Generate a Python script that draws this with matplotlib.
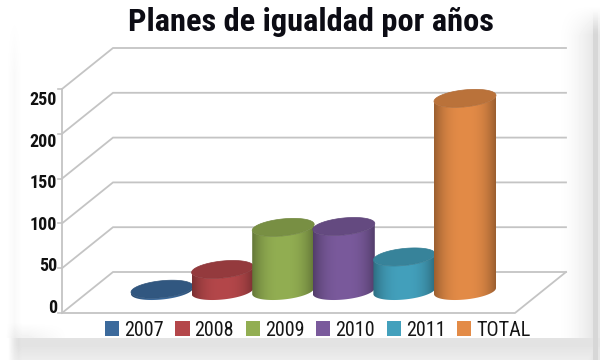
import numpy as np
import matplotlib
matplotlib.use("Agg")
import matplotlib.pyplot as plt
from matplotlib.patches import Polygon, Patch
from matplotlib.colors import to_rgb
from matplotlib import font_manager as fm

# ---- data ----
categories = ["2007", "2008", "2009", "2010", "2011", "TOTAL"]
values = [2, 24, 71, 72, 38, 215]
colors = ["#3c6a9c", "#b4474a", "#92ae52", "#7a5a9c", "#43a0bc", "#e38b47"]
y_ticks = [0, 50, 100, 150, 200, 250]
grid_levels = [0, 50, 100, 150, 200, 250]
title = "Planes de igualdad por años"

narrow = "Liberation Sans"
for cand in ["Roboto Condensed", "Archivo Narrow", "IBM Plex Sans Condensed", "Fira Sans Condensed", "Barlow Condensed"]:
    if any(f.name == cand and int(f.weight) >= 600 if str(f.weight).isdigit() else f.name == cand and f.weight == "bold"
           for f in fm.fontManager.ttflist):
        narrow = cand
        break

W, H = 600, 360
fig = plt.figure(figsize=(W / 100, H / 100), dpi=100, facecolor="white")

# soft frame shadow behind the panel
bg = fig.add_axes([0, 0, 1, 1], zorder=0)
bg.axis("off")
yy, xx = np.mgrid[0:H, 0:W].astype(float)
right = np.clip((xx - 552) / 41, 0, 1) ** 2 * 0.10 * np.clip((yy - 5) / 30, 0, 1)
stripe = ((xx >= 593) & (xx < 598)) * 0.06 * np.clip((yy - 10) / 20, 0, 1)
bottom = np.where(yy >= 338, 0.11 - np.clip((yy - 345) / 15, 0, 1) * 0.04, 0) * np.clip((xx - 8) / 10, 0, 1)
band = np.clip((yy - 322) / 18, 0, 1) * np.clip((68 - xx) / 40, 0, 1) * 0.06 * (yy < 338) * np.clip((xx - 5) / 10, 0, 1)
left = np.clip((8 - np.abs(xx - 14)) / 8, 0, 1) * 0.025 * np.clip((yy - 15) / 60, 0, 1)
shade = 1 - np.maximum(right + stripe, bottom) - band - left
bg.imshow(shade, cmap="gray", vmin=0, vmax=1, extent=(0, W, H, 0), aspect="auto", interpolation="bilinear")

# main axes: x in category index, y in chart value on the plane of the bars
PXU = 60.6          # px per category
PYU = 0.896         # px per value unit
X0, Y0 = 162.0, 291.0
ax = fig.add_axes([0, 0, 1, 1], zorder=1)
ax.patch.set_alpha(0)
ax.axis("off")

# walls & grid
grid_c = "#c4c4c4"
back_dy, front_dy = 19 / PYU, -22 / PYU
bl, br = (113 - X0) / PXU, (566 - X0) / PXU
fl, fr = (62 - X0) / PXU, (515 - X0) / PXU
tick_x = (58 - X0) / PXU
for lv in grid_levels:
    ax.plot([fl, bl, br], [lv + front_dy, lv + back_dy, lv + back_dy], color=grid_c, lw=1.3, zorder=1,
            solid_joinstyle="miter")
    ax.plot([tick_x, fl], [lv + front_dy] * 2, color=grid_c, lw=1.2, zorder=1)
ax.plot([fl, fl], [front_dy, grid_levels[-1] + front_dy], color=grid_c, lw=1.3, zorder=1)
ax.plot([fl, fr, br], [front_dy, front_dy, back_dy], color=grid_c, lw=1.3, zorder=1)

# cylinders
A = 31 / PXU
B = 8.5 / PYU
SH = 3 / PYU
t = np.linspace(0, 2 * np.pi, 200)


def arc(cx, base, tt):
    return np.c_[cx + A * np.cos(tt), base + B * np.sin(tt) + SH * np.cos(tt)]


for i, (v, c) in enumerate(zip(values, colors)):
    rgb = np.array(to_rgb(c))
    z = 3 + i
    low = np.linspace(np.pi, 2 * np.pi, 80)
    body = np.vstack([arc(i, 0, low), arc(i, v, low[::-1])])
    u = np.linspace(-1, 1, 120)
    edge = 0.68 + 0.32 * (1 - np.abs(u) ** 2.6)
    grad = np.clip(rgb[None, None, :] * edge[None, :, None], 0, 1)
    ymin, ymax = -B - SH, v + B + SH
    im = ax.imshow(grad, extent=(i - A, i + A, ymin, ymax), aspect="auto", zorder=z, interpolation="bilinear")
    poly = Polygon(body, closed=True, fc="none", ec="none", transform=ax.transData)
    ax.add_patch(poly)
    im.set_clip_path(poly)
    # top cap
    ax.add_patch(Polygon(arc(i, v, t), closed=True, fc=rgb * 0.82, ec=rgb * 0.78, lw=0.5, zorder=z + 0.5))
ax.set_xlim(-X0 / PXU, (W - X0) / PXU)
ax.set_ylim((Y0 - H) / PYU, Y0 / PYU)

# legend
handles = [Patch(fc=c, ec="none", label=n) for n, c in zip(categories, colors)]
leg = ax.legend(handles=handles, ncols=6, frameon=False, loc="center left", bbox_to_anchor=(105 / W, 1 - 330 / H),
                prop={"family": narrow, "size": 14.5}, handlelength=0.7, handleheight=0.75,
                handletextpad=0.25, columnspacing=0.58, borderpad=0, borderaxespad=0)
for tx in leg.get_texts():
    tx.set_color("#151515")

# value labels sit on their own scale in the reference
ya = fig.add_axes([57 / W, 1 - 306 / H, 0.0001, 208 / H], zorder=2)
ya.patch.set_alpha(0)
ya.set_ylim(y_ticks[0], y_ticks[-1])
ya.set_yticks(y_ticks)
ya.set_xticks([])
ya.tick_params(axis="y", length=0, pad=0)
for s in ya.spines.values():
    s.set_visible(False)
for lab in ya.get_yticklabels():
    lab.set_fontfamily(narrow)
    lab.set_fontweight("bold")
    lab.set_fontsize(13)
    lab.set_color("#111111")

fig.text(311 / W, 1 - 22 / H, title, ha="center", va="center", family=narrow, fontweight="bold",
         fontsize=23.3, color="#0c0c14", zorder=5)

fig.savefig("out.png", dpi=100, facecolor="white")
